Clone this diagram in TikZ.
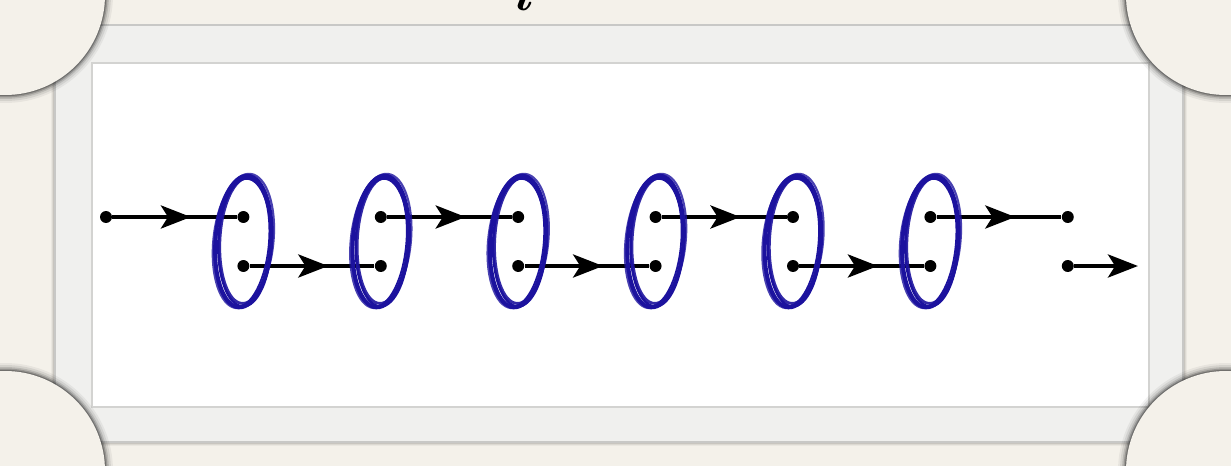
\documentclass[tikz,border=0pt]{standalone}
\usepackage{bm}
\usetikzlibrary{arrows.meta,decorations.markings,calc}
\definecolor{paper}{RGB}{244,241,234}
\definecolor{framegrey}{RGB}{240,240,238}
\definecolor{frameedge}{RGB}{200,200,198}
\definecolor{inkblue}{RGB}{28,18,158}
\tikzset{
	dot/.style={circle, fill=black, inner sep=0pt, minimum size=6.8pt},
	wire/.style={line width=2.8pt},
	bigtip/.tip={Stealth[length=17pt, width=13pt, inset=4pt]},
	midarrow/.style={postaction={decorate}, decoration={markings, mark=at position #1 with {\arrow{bigtip}}}},
	midarrow/.default=0.63,
	ring/.style={draw=inkblue, line width=#1},
}
\begin{document}
\begin{tikzpicture}[x=0.02cm, y=-0.02cm]
		\useasboundingbox (0,0) rectangle (1231,466);
		\clip (0,0) rectangle (1231,466);
		\fill[paper] (0,0) rectangle (1231,466);
		
		% frame
		\foreach \sh/\op in {4/0.04, 3/0.06, 2/0.09, 1/0.12} {
			\fill[black, opacity=\op] (55-\sh,25) rectangle (1183+\sh,442+\sh);
		}
		\filldraw[fill=framegrey, draw=frameedge, line width=0.6pt] (55,25) rectangle (1183,442);
		\filldraw[fill=white, draw=frameedge!80, line width=0.6pt] (92,63) rectangle (1149,407);
		\foreach \cx/\cy in {5/-5, 1226/-5, 5/471, 1226/471} {
			\foreach \rr/\op in {108/0.05, 106/0.08, 104/0.12, 102.5/0.18, 101.2/0.25} {
				\fill[black, opacity=\op] (\cx,\cy) circle[radius=\rr];
			}
			\fill[paper] (\cx,\cy) circle[radius=100];
		}
		
		\node[anchor=base, scale=2.9] (title) at (524,11) {$\bm{i}$};
		
		\foreach \k in {0,...,7} {
			\node[dot] (u\k) at ({106+137.4*\k}, 217) {};
		}
		\foreach \k in {1,...,7} {
			\node[dot] (l\k) at ({106+137.4*\k}, 266) {};
		}
		\coordinate (lend) at (1138, 266);
		
		\draw[wire, midarrow] (u0) -- (u1);
		\draw[wire, midarrow] (l1) -- (l2);
		\draw[wire, midarrow] (u2) -- (u3);
		\draw[wire, midarrow] (l3) -- (l4);
		\draw[wire, midarrow] (u4) -- (u5);
		\draw[wire, midarrow] (l5) -- (l6);
		\draw[wire, midarrow] (u6) -- (u7);
		\draw[wire, -bigtip] (l7) -- (lend);
		
		% hand drawn rings
		\foreach \k in {1,...,6} {
			\coordinate (c\k) at ($(u\k)!0.5!(l\k)$);
			\draw[ring=2.2pt] (c\k) ellipse[x radius=28, y radius=66, rotate=-4];
			\draw[ring=1.4pt] ($(c\k)+(1.5,1)$) ellipse[x radius=26.5, y radius=64, rotate=-2];
			\draw[ring=1.2pt, opacity=0.8] ($(c\k)+(0,-0.5)$) ellipse[x radius=30, y radius=67.5, rotate=-6];
			\draw[ring=1pt] ($(c\k)+(-1.5,0.5)$) ellipse[x radius=27, y radius=65, rotate=-5];
			\draw[ring=1.6pt, opacity=0.9] ($(c\k)+(2,-1)$) ellipse[x radius=25.5, y radius=63, rotate=-3];
		}
	\end{tikzpicture}
\end{document}
